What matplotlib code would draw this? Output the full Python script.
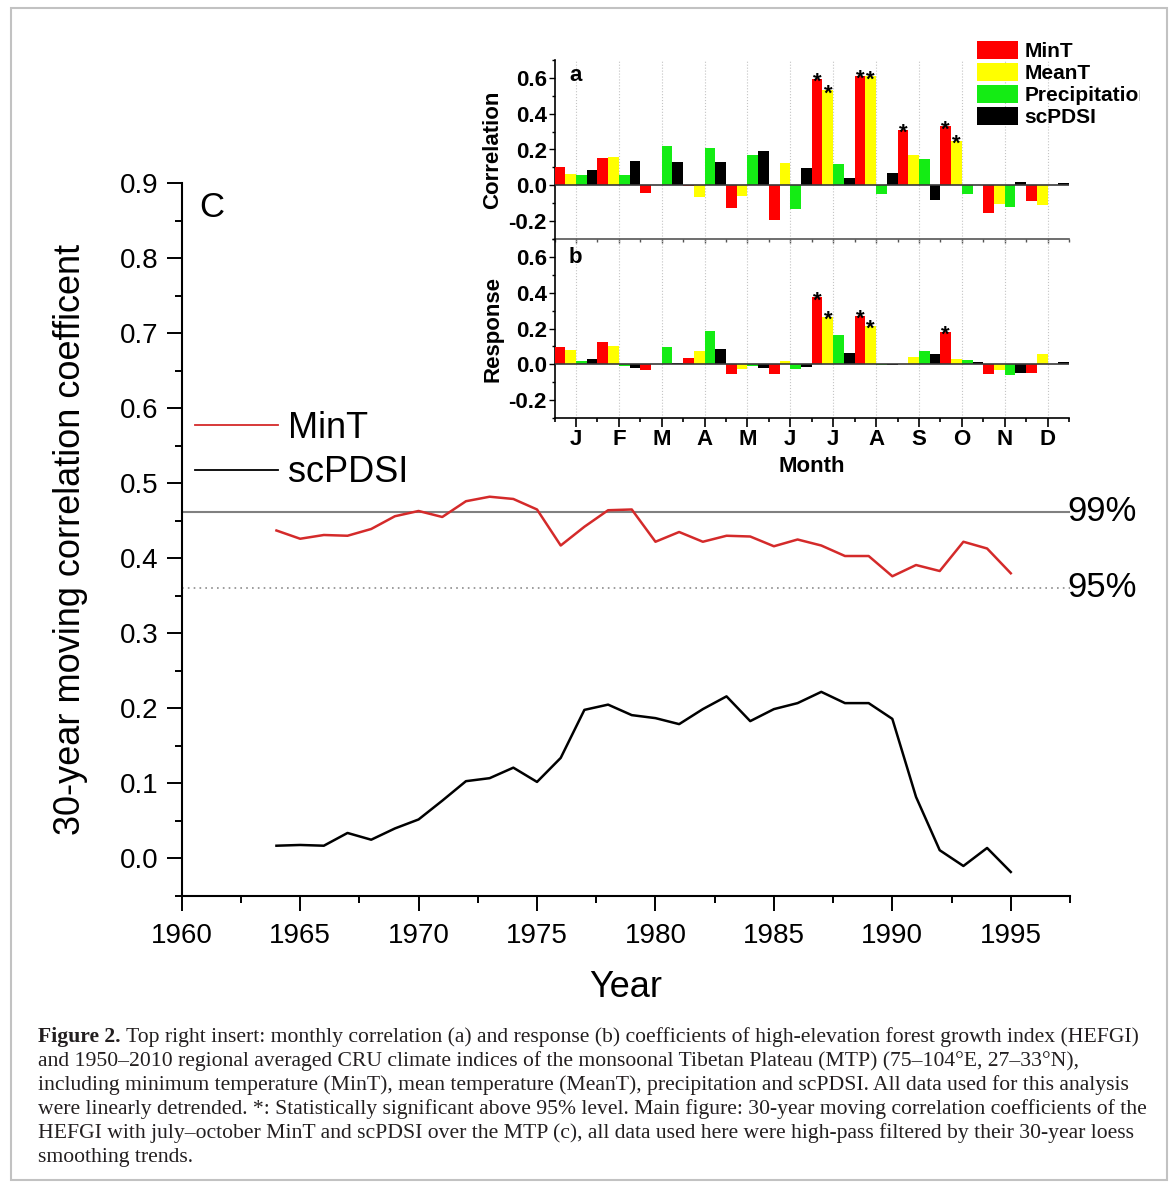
import matplotlib
matplotlib.use("Agg")
import matplotlib.pyplot as plt
from matplotlib.lines import Line2D
from matplotlib.patches import Rectangle
from matplotlib.ticker import MultipleLocator, FixedLocator
from matplotlib.transforms import Bbox, TransformedBbox, blended_transform_factory

# ---- data: panel c (30-year moving correlation) ----
years = list(range(1964, 1996))
mint_corr = [0.437, 0.426, 0.431, 0.430, 0.439, 0.456, 0.463, 0.455, 0.476, 0.482,
             0.479, 0.465, 0.417, 0.442, 0.464, 0.465, 0.422, 0.435, 0.422, 0.430,
             0.429, 0.416, 0.425, 0.417, 0.403, 0.403, 0.376, 0.391, 0.383, 0.422,
             0.413, 0.380]
scpdsi_corr = [0.017, 0.018, 0.017, 0.034, 0.025, 0.040, 0.052, 0.077, 0.103, 0.107,
               0.121, 0.102, 0.134, 0.198, 0.205, 0.191, 0.187, 0.179, 0.199, 0.216,
               0.183, 0.199, 0.207, 0.222, 0.207, 0.207, 0.186, 0.082, 0.011, -0.010,
               0.014, -0.018]
sig99 = 0.462
sig95 = 0.361

# ---- data: insert panels a (correlation) and b (response) ----
months = ["J", "F", "M", "A", "M", "J", "J", "A", "S", "O", "N", "D"]
variables = ["MinT", "MeanT", "Precipitation", "scPDSI"]
corr_mint = [0.100, 0.152, -0.043, -0.006, -0.126, -0.193, 0.594, 0.613, 0.309, 0.330, -0.157, -0.087]
corr_meant = [0.063, 0.157, 0.000, -0.065, -0.057, 0.122, 0.531, 0.609, 0.170, 0.250, -0.106, -0.111]
corr_prec = [0.056, 0.056, 0.219, 0.209, 0.167, -0.135, 0.117, -0.046, 0.148, -0.046, -0.124, 0.000]
corr_pdsi = [0.083, 0.133, 0.130, 0.130, 0.191, 0.096, 0.041, 0.069, -0.083, 0.000, 0.019, 0.015]
resp_mint = [0.095, 0.123, -0.032, 0.037, -0.056, -0.056, 0.374, 0.270, 0.000, 0.180, -0.056, -0.050]
resp_meant = [0.080, 0.104, 0.000, 0.076, -0.028, 0.020, 0.266, 0.214, 0.039, 0.028, -0.032, 0.058]
resp_prec = [0.019, -0.007, 0.099, 0.188, -0.007, -0.028, 0.162, -0.002, 0.076, 0.024, -0.061, 0.003]
resp_pdsi = [0.028, -0.019, 0.006, 0.086, -0.019, -0.013, 0.061, -0.004, 0.056, 0.011, -0.050, 0.011]
# months (0-based) significant above 95%
corr_sig = {"MinT": [6, 7, 8, 9], "MeanT": [6, 7, 9]}
resp_sig = {"MinT": [6, 7, 9], "MeanT": [6, 7]}

bar_colors = ["#ff0000", "#ffff00", "#14ec14", "#000000"]
red_line = "#d42a2a"

caption_lines = [
    "Top right insert: monthly correlation (a) and response (b) coefficients of high-elevation forest growth index (HEFGI)",
    "and 1950\u20132010 regional averaged CRU climate indices of the monsoonal Tibetan Plateau (MTP) (75\u2013104\u00b0E, 27\u201333\u00b0N),",
    "including minimum temperature (MinT), mean temperature (MeanT), precipitation and scPDSI. All data used for this analysis",
    "were linearly detrended. *: Statistically significant above 95% level. Main figure: 30-year moving correlation coefficients of the",
    "HEFGI with july\u2013october MinT and scPDSI over the MTP (c), all data used here were high-pass filtered by their 30-year loess",
    "smoothing trends.",
]

plt.rcParams["font.family"] = ["Liberation Sans", "DejaVu Sans"]
W, H = 1173, 1189
fig = plt.figure(figsize=(W / 100, H / 100), dpi=100)
fig.patch.set_facecolor("white")


def fig_box(x0, y0, x1, y1):
    # pixel box (top-left origin) -> figure fraction rect
    return [x0 / W, 1 - y1 / H, (x1 - x0) / W, (y1 - y0) / H]


# ---- main panel c ----
ax = fig.add_axes(fig_box(181.7, 183, 1070, 896))
ax.plot(years, mint_corr, color=red_line, lw=1.8, zorder=3)
ax.plot(years, scpdsi_corr, color="black", lw=1.8, zorder=3)
ax.axhline(sig99, color="#808080", lw=1.5, zorder=2)
ax.axhline(sig95, color="#8c8c8c", lw=1.2, ls=(0, (1, 2.5)), zorder=2)
blend = blended_transform_factory(ax.transAxes, ax.transData)
ax.text(0.9975, sig99, "99%", transform=blend, ha="left", va="center", fontsize=25, clip_on=False)
ax.text(0.9975, sig95, "95%", transform=blend, ha="left", va="center", fontsize=25, clip_on=False)
ax.text(0.034, 0.966, "C", transform=ax.transAxes, ha="center", va="center", fontsize=25)

ax.set_xlim(1960, 1997.5)
ax.set_ylim(-0.05, 0.9)
ax.xaxis.set_major_locator(FixedLocator([1960, 1965, 1970, 1975, 1980, 1985, 1990, 1995]))
ax.xaxis.set_minor_locator(MultipleLocator(2.5))
ax.yaxis.set_major_locator(MultipleLocator(0.1))
ax.yaxis.set_minor_locator(MultipleLocator(0.05))
ax.yaxis.set_major_formatter(plt.FuncFormatter(lambda v, p: f"{v:.1f}"))
for side in ["top", "right"]:
    ax.spines[side].set_visible(False)
for side in ["left", "bottom"]:
    ax.spines[side].set_linewidth(1.5)
ax.tick_params(which="major", direction="out", length=10.8, width=1.4, labelsize=20)
ax.tick_params(which="minor", direction="out", length=5, width=1.4)
ax.tick_params(axis="y", pad=6)
ax.tick_params(axis="x", pad=8.5)
ax.set_ylabel("30-year moving correlation coefficent", fontsize=26)
ax.yaxis.set_label_coords(-0.106, 0.5)
ax.set_xlabel("Year", fontsize=26)
ax.xaxis.set_label_coords(0.5, -0.104)

main_handles = [Line2D([], [], color=red_line, lw=1.3), Line2D([], [], color="black", lw=1.3)]
ax.legend(main_handles, ["MinT", "scPDSI"], loc="upper left",
          bbox_to_anchor=(195 / W, 1 - 411 / H), bbox_transform=fig.transFigure,
          frameon=False, fontsize=26, borderpad=0, borderaxespad=0,
          handlelength=2.3, handletextpad=0.28, labelspacing=0.26)

# ---- insert panels a and b ----
ax_a = fig.add_axes(fig_box(554.5, 60, 1069, 239))
ax_b = fig.add_axes(fig_box(554.5, 239, 1069, 418))
panels = [
    (ax_a, [corr_mint, corr_meant, corr_prec, corr_pdsi], corr_sig, "a", "Correlation", 0.916),
    (ax_b, [resp_mint, resp_meant, resp_prec, resp_pdsi], resp_sig, "b", "Response", 0.894),
]
xpos = list(range(1, 13))
offsets = [-0.375, -0.125, 0.125, 0.375]
bar_handles = []
for axi, series, sig, letter, ylab, ly in panels:
    axi.set_facecolor("none")
    for k, vals in enumerate(series):
        bars = axi.bar([x + offsets[k] for x in xpos], vals, width=0.25,
                       color=bar_colors[k], linewidth=0, zorder=3)
        if axi is ax_a:
            bar_handles.append(bars)
        for m in sig.get(variables[k], []):
            axi.annotate("*", (xpos[m] + offsets[k], vals[m]), xytext=(0, -9),
                         textcoords="offset pixels", ha="center", va="baseline",
                         fontsize=16, fontweight="bold", zorder=4)
    axi.axhline(0, color="#3a3a3a", lw=1.2, zorder=4)
    axi.set_xlim(0.5, 12.5)
    axi.set_ylim(-0.3, 0.7)
    axi.xaxis.set_major_locator(FixedLocator(xpos))
    axi.xaxis.set_minor_locator(FixedLocator([x + 0.5 for x in range(0, 13)]))
    axi.yaxis.set_major_locator(FixedLocator([-0.2, 0.0, 0.2, 0.4, 0.6]))
    axi.yaxis.set_minor_locator(MultipleLocator(0.1))
    axi.yaxis.set_major_formatter(plt.FuncFormatter(lambda v, p: f"{v:.1f}"))
    axi.grid(axis="x", which="major", color="#c4c4c4", lw=0.8, ls=":", zorder=1)
    axi.spines["right"].set_visible(False)
    axi.spines["top"].set_visible(False)
    axi.spines["left"].set_linewidth(1.2)
    axi.tick_params(axis="y", which="major", direction="out", length=4, width=1.0,
                    labelsize=16, pad=1.5)
    axi.tick_params(axis="y", which="minor", direction="out", length=2, width=1.0)
    for lbl in axi.get_yticklabels():
        lbl.set_fontweight("bold")
    axi.set_ylabel(ylab, fontsize=16, fontweight="bold")
    axi.yaxis.set_label_coords(-0.100, 0.5)
    axi.text(0.04, ly, letter, transform=axi.transAxes, ha="center", va="center",
             fontsize=16, fontweight="bold")

# divider between a and b carries short ticks
ax_a.spines["bottom"].set_color("#555555")
ax_a.spines["bottom"].set_linewidth(1.2)
ax_a.tick_params(axis="x", which="major", direction="out", length=3, width=1.0,
                 labelbottom=False, color="#555555")
ax_a.tick_params(axis="x", which="minor", direction="out", length=2, width=1.0, color="#555555")

ax_b.spines["bottom"].set_linewidth(1.2)
ax_b.set_xticklabels(months)
ax_b.tick_params(axis="x", which="major", direction="out", length=6.5, width=1.2,
                 labelsize=16, pad=1.5)
ax_b.tick_params(axis="x", which="minor", direction="out", length=3, width=1.2)
for lbl in ax_b.get_xticklabels():
    lbl.set_fontweight("bold")
ax_b.set_xlabel("Month", fontsize=16, fontweight="bold", labelpad=4)

leg = ax_a.legend(bar_handles, variables, loc="upper left",
                  bbox_to_anchor=(977 / W, 1 - 41 / H), bbox_transform=fig.transFigure,
                  frameon=False, borderpad=0, borderaxespad=0, handlelength=1.97,
                  handleheight=0.96, handletextpad=0.3, labelspacing=0.08,
                  prop={"size": 15, "weight": "bold"})
# the insert image is cut on its right side
clip = TransformedBbox(Bbox([[0, 0], [1140 / W, 1]]), fig.transFigure)
for t in leg.get_texts():
    t.set_clip_box(clip)
    t.set_clip_on(True)

# ---- caption ----
cap_font = "Liberation Serif"
cap_color = "#231f20"
fs = 13.0
x0 = 38 / W
base_y = [1041.7, 1065.7, 1089.8, 1113.9, 1137.9, 1162.0]
head = fig.text(x0, 1 - base_y[0] / H, "Figure 2.", family=cap_font, fontweight="bold",
                fontsize=fs, va="baseline", color=cap_color)
rest = [fig.text(x0, 1 - y / H, s, family=cap_font, fontsize=fs, va="baseline", color=cap_color)
        for s, y in zip(caption_lines, base_y)]
fig.canvas.draw()
r = fig.canvas.get_renderer()
sp = 4.5
w1 = head.get_window_extent(r).width + sp + rest[0].get_window_extent(r).width
fs = fs * (1136 - 38) / w1
head.set_fontsize(fs)
for t in rest:
    t.set_fontsize(fs)
fig.canvas.draw()
hw = head.get_window_extent(r).width
rest[0].set_x(x0 + (hw + sp * fs / 13.0) / W)

# light frame around the figure block
fig.patches.append(Rectangle((11 / W, 1 - 1180 / H), (1167 - 11) / W, (1180 - 8) / H,
                             transform=fig.transFigure, fill=False,
                             edgecolor="#c2c2c2", lw=1.5))

fig.savefig("out.png", dpi=100, facecolor="white")
